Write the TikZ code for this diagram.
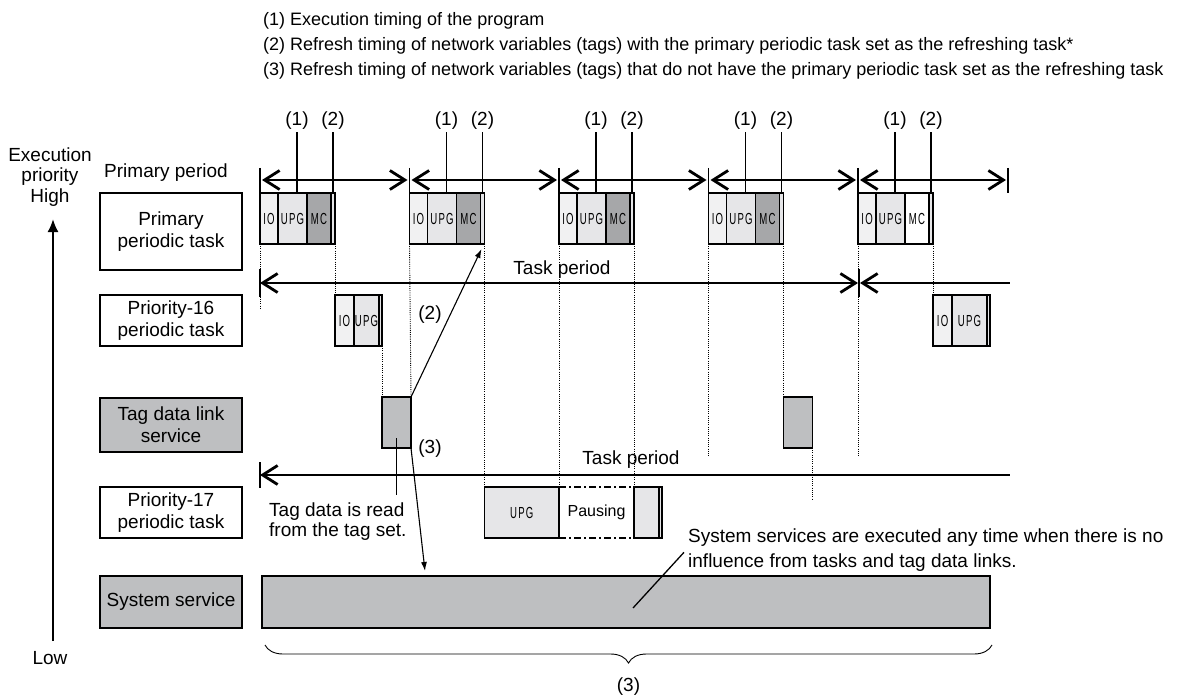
\documentclass[tikz,border=0pt]{standalone}
\usepackage{fontspec}
\setmainfont{Liberation Sans}
\newfontfamily\blkfont[FakeStretch=0.6,LetterSpace=8]{Liberation Sans}
\usetikzlibrary{arrows.meta,calc,decorations.pathreplacing}

\definecolor{iofill}{HTML}{F1F1F2}
\definecolor{upgfill}{HTML}{E6E6E8}
\definecolor{mcfill}{HTML}{A6A7A9}
\definecolor{svcfill}{HTML}{BEBFC1}

\begin{document}
\begin{tikzpicture}[x=1pt,y=-1pt,
  font=\fontsize{19}{22}\selectfont,
  legend/.style={anchor=west,inner sep=0pt,font=\fontsize{18}{20}\selectfont},
  tasklab/.style={rectangle,draw,line width=1.5pt,minimum width=142pt,minimum height=#1,align=center,inner sep=0pt},
  blk/.style={rectangle,draw,line width=1.8pt,anchor=north west,inner sep=0pt,inner xsep=-14pt,outer sep=0pt,minimum height=51pt,font=\blkfont\fontsize{16}{16}\selectfont},
  stripe/.style={blk,fill=upgfill,minimum width=4pt},
  tagblk/.style={blk,fill=svcfill,minimum width=29pt},
  parr/.style={{Straight Barb[length=15pt,width=19pt]}-{Straight Barb[length=15pt,width=19pt]},line width=2.8pt},
  larr/.style={{Straight Barb[length=15pt,width=19pt]}-,line width=2.8pt},
  bartick/.style={line width=1.6pt},
  guide/.style={line width=0.9pt,dash pattern=on 1pt off 1.2pt},
  ptr/.style={line width=1.3pt},
  ptrarr/.style={-{Latex[length=9pt,width=6pt]},line width=1.1pt},
  dashdot/.style={line width=1.8pt,dash pattern=on 7pt off 3pt on 2pt off 3pt},
  num/.style={inner sep=2pt},
]
\useasboundingbox (0,0) rectangle (1180,695);

% Legend
\node[legend] (leg1) at (263,21) {(1) Execution timing of the program};
\node[legend] (leg2) at (263,46) {(2) Refresh timing of network variables (tags) with the primary periodic task set as the refreshing task*};
\node[legend] (leg3) at (263,71) {(3) Refresh timing of network variables (tags) that do not have the primary periodic task set as the refreshing task};

% Priority axis
\node[align=center,font=\fontsize{19}{20.5}\selectfont] (prio) at (50,177) {Execution\\priority\\High};
\node (low) at (50,658) {Low};
\coordinate (axlo) at (53,641);
\coordinate (axhi) at (53,219);
\draw[-{Latex[length=13pt,width=11pt]},line width=2pt] (axlo) -- (axhi);

% Task labels
\node (pplab) at (166,173) {Primary period};
\node[tasklab=77pt] (lprim) at (171,231.5) {Primary\\periodic task};
\node[tasklab=51pt] (lp16) at (171,320.5) {Priority-16\\periodic task};
\node[tasklab=54pt,fill=svcfill] (ltag) at (171,425) {Tag data link\\service};
\node[tasklab=51pt] (lp17) at (171,512.5) {Priority-17\\periodic task};
\node[tasklab=52pt,fill=svcfill] (lsys) at (171,602) {System service};

% Primary periodic task: one IO/UPG/MC block per period
\foreach \i/\x/\mc in {1/260/mcfill,2/409.5/mcfill,3/559/mcfill,4/708.5/mcfill,5/858/white}{
  \coordinate (pp\i) at (\x,180);
  \node[blk,fill=iofill,minimum width=18pt] (io\i) at (\x,193) {IO};
  \node[blk,fill=upgfill,minimum width=29pt] (upg\i) at (io\i.north east) {UPG};
  \node[blk,fill=\mc,minimum width=24pt] (mc\i) at (upg\i.north east) {MC};
  \node[stripe] (end\i) at (mc\i.north east) {};
  \node[num] (one\i) at (\x+37,121) {(1)};
  \node[num] (two\i) at (\x+73,121) {(2)};
  \draw[ptr] (one\i.south) -- (one\i.south |- upg\i.north);
  \draw[ptr] (two\i.south) -- (two\i.south |- end\i.north);
  \draw[bartick] ([yshift=12pt]pp\i) -- (io\i.north west);
}
\coordinate (pp6) at (1008,180);
\draw[bartick] ([yshift=12pt]pp6) -- ([yshift=-13pt]pp6);
\foreach \i [evaluate=\i as \j using int(\i+1)] in {1,...,5}
  \draw[parr] ([xshift=2pt]pp\i) -- ([xshift=-2pt]pp\j);

% Priority-16 periodic task
\node[blk,fill=iofill,minimum width=19pt] (aio1) at (335,295) {IO};
\node[blk,fill=upgfill,minimum width=25pt] (aupg1) at (aio1.north east) {UPG};
\node[stripe,minimum width=3pt] (aend1) at (aupg1.north east) {};
\node[blk,fill=iofill,minimum width=19pt] (aio2) at (933,295) {IO};
\node[blk,fill=upgfill,minimum width=35pt] (aupg2) at (aio2.north east) {UPG};
\node[stripe,minimum width=3pt] (aend2) at (aupg2.north east) {};

% Task period of priority-16
\coordinate (tpa) at (260,283);
\coordinate (tpb) at (859,283);
\coordinate (tpc) at (1010,283);
\draw[parr] (tpa) -- ([xshift=-1pt]tpb);
\draw[larr] ([xshift=1pt]tpb) -- (tpc);
\draw[bartick] ([yshift=14pt]tpa) -- ([yshift=-14pt]tpa);
\draw[bartick] ([yshift=14pt]tpb) -- ([yshift=-14pt]tpb);
\node (tplab) at (562,270) {Task period};

% Tag data link service
\node[tagblk] (tag1) at (382,397) {};
\node[tagblk] (tag2) at (783.5,397) {};

% Priority-17 periodic task
\coordinate (tqa) at (260,475);
\coordinate (tqc) at (1010,475);
\draw[larr] (tqa) -- (tqc);
\draw[bartick] ([yshift=13pt]tqa) -- ([yshift=-13pt]tqa);
\node (tqlab) at (631,460) {Task period};
\node[blk,fill=upgfill,minimum width=74.5pt] (bupg) at (484.5,487) {UPG};
\node[blk,draw=none,minimum width=75pt,font=\fontsize{16}{16}\selectfont] (bpause) at (bupg.north east) {Pausing};
\draw[dashdot] (bpause.north west) -- (bpause.north east);
\draw[dashdot] (bpause.south west) -- (bpause.south east);
\node[blk,fill=upgfill,minimum width=25pt] (bend) at (bpause.north east) {};
\node[stripe,minimum width=3pt] (bstrip) at (bend.north east) {};

% System service
\node[rectangle,draw,line width=1.8pt,fill=svcfill,anchor=north west,minimum width=728pt,minimum height=52pt,inner sep=0pt,outer sep=0pt] (sysbar) at (262,576) {};
\draw[decorate,decoration={brace,mirror,amplitude=18pt},line width=0.9pt]
  ([xshift=3pt,yshift=-17pt]sysbar.south west) -- ([xshift=2pt,yshift=-17pt]sysbar.south east);
\node (brlab) at (628.5,687) {(3)};

% Dotted timing guides
\coordinate (g1) at (260,310);
\coordinate (g4) at (708.5,456);
\coordinate (g5) at (858,456);
\coordinate (gt) at (812.5,500);
\draw[guide] (io1.south west) -- (g1);
\draw[guide] (end1.south east) -- (aio1.north west);
\draw[guide] (aend1.south east) -- (tag1.north west);
\draw[guide] (io2.south west) -- (tag1.north east);
\draw[guide] (end2.south east) -- (bupg.north west);
\draw[guide] (io3.south west) -- (bpause.north west);
\draw[guide] (end3.south east) -- (bend.north west);
\draw[guide] (io4.south west) -- (g4);
\draw[guide] (end4.south east) -- (tag2.north west);
\draw[guide] (tag2.south east) -- (gt);
\draw[guide] (io5.south west) -- (g5);
\draw[guide] (end5.south east) -- (aio2.north west);

% Refresh pointers
\node (lab2) at (430,315) {(2)};
\draw[ptrarr] (tag1.north east) -- ([xshift=1pt,yshift=-5pt]end2.south west);
\node (lab3) at (430,449) {(3)};
\coordinate (rd) at (425,571);
\draw[ptrarr] (tag1.south east) -- (rd);

% Notes
\node[anchor=north west,inner sep=0pt,align=left,font=\fontsize{19}{20}\selectfont] (readtxt) at (269,503) {Tag data is read\\from the tag set.};
\draw[ptr] ([yshift=10pt]tag1.south) -- ([yshift=8pt]tag1.south |- readtxt.north);
\node[anchor=north west,inner sep=0pt,align=left,font=\fontsize{19}{24.5}\selectfont] (systxt) at (688,529) {System services are executed any time when there is no\\influence from tasks and tag data links.};
\coordinate (sysptr) at (633,608);
\draw[ptr] ([xshift=-4pt,yshift=-2pt]systxt.west) -- (sysptr);
\end{tikzpicture}
\end{document}
